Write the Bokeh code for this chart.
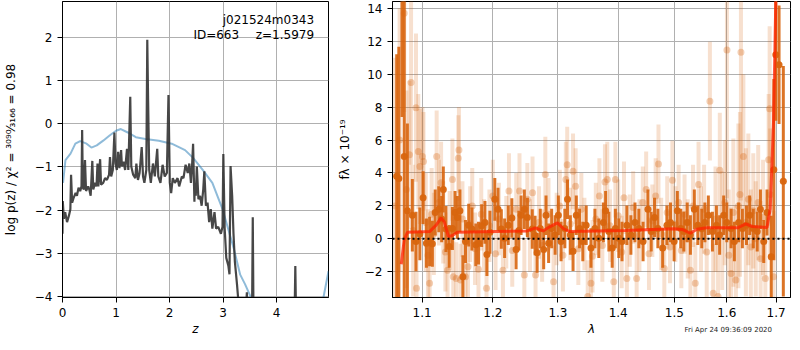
import numpy as np
from bokeh.plotting import figure
from bokeh.models import FixedTicker, PrintfTickFormatter, Label, Range1d, Span, Div
from bokeh.layouts import row, column
from bokeh.embed import file_html
from bokeh.resources import INLINE

FONT = "DejaVu Sans"
FS = "12px"

# ---------------- left panel data: log p(z) ----------------
z_pz = [0.000, 0.005, 0.025, 0.050, 0.085, 0.120, 0.147, 0.160, 0.180, 0.210, 0.245, 0.270, 0.300, 0.330,
        0.355, 0.367, 0.380, 0.400, 0.420, 0.440, 0.480, 0.500, 0.526, 0.557, 0.575, 0.610, 0.636, 0.654,
        0.670, 0.703, 0.720, 0.760, 0.795, 0.830, 0.870, 0.887, 0.910, 0.940, 0.970, 0.990, 1.015, 1.040,
        1.064, 1.095, 1.110, 1.140, 1.170, 1.205, 1.230, 1.266, 1.285, 1.320, 1.360, 1.380, 1.410, 1.440,
        1.480, 1.505, 1.530, 1.566, 1.584, 1.600, 1.620, 1.650, 1.690, 1.725, 1.770, 1.790, 1.830, 1.870,
        1.910, 1.950, 1.980, 2.005, 2.030, 2.060, 2.100, 2.150, 2.180, 2.230, 2.260, 2.300, 2.340, 2.370,
        2.400, 2.420, 2.440, 2.465, 2.470, 2.490, 2.510, 2.540, 2.570, 2.600, 2.630, 2.650, 2.680, 2.710,
        2.740, 2.770, 2.800, 2.840, 2.870, 2.910, 2.960, 2.990, 3.005, 3.030, 3.060, 3.100, 3.120, 3.140,
        3.170, 3.195, 3.220, 3.260, 3.290, 3.410, 3.445, 3.460, 3.540, 3.555, 3.570, 3.660, 4.330, 4.350,
        4.370, 4.970]
logp = [-2.55, -1.79, -2.20, -2.05, -2.28, -2.13, -1.98, -1.18, -1.83, -1.71, -1.60, -1.67, -1.48, -1.56,
        -1.45, -0.14, -1.48, -1.52, -0.84, -1.56, -1.45, -1.52, -1.67, -0.86, -1.52, -1.37, -1.45, -0.92,
        -1.45, -0.82, -1.41, -1.37, -1.26, -1.30, -1.18, -0.77, -1.22, -1.07, -0.20, -0.92, -1.07, -0.65,
        -1.03, -0.61, -0.99, -0.88, -1.07, -0.58, -1.07, 0.63, -0.99, -1.18, -1.26, -0.92, -1.30, -1.14,
        -0.54, -1.22, -1.37, -1.07, 1.95, 0.52, -1.07, -1.37, -0.92, -1.22, -0.58, -1.22, -1.37, -0.95,
        -1.22, -1.14, 0.67, -1.37, -1.61, -1.26, -1.37, -1.26, -1.45, -1.22, -1.26, -0.95, -1.14, -0.92,
        -1.37, -0.99, -0.46, -1.81, -1.37, -1.67, -0.99, -1.75, -1.67, -1.90, -1.52, -1.10, -1.90, -1.83,
        -2.28, -1.98, -2.43, -2.05, -2.43, -2.39, -2.55, -2.39, -0.70, -2.43, -3.11, -3.30, -3.49, -0.98,
        -1.67, -2.55, -3.19, -3.72, -4.17, -4.70, -3.91, -4.70, -4.70, -2.17, -4.70, -5.00, -5.00, -3.30,
        -5.00, -5.00]

z_prior = [0.01, 0.055, 0.15, 0.24, 0.33, 0.45, 0.54, 0.64, 0.76, 0.88, 1.00, 1.09, 1.22, 1.37, 1.55,
           1.80, 2.04, 2.29, 2.44, 2.62, 2.80, 2.99, 3.20, 3.32, 3.41, 3.51, 3.70, 4.00, 4.40, 4.80, 4.88, 4.97]
lp_prior = [-1.37, -0.84, -0.69, -0.46, -0.40, -0.46, -0.55, -0.50, -0.39, -0.27, -0.16, -0.12, -0.20,
            -0.31, -0.35, -0.39, -0.46, -0.61, -0.79, -1.07, -1.37, -1.98, -2.89, -3.50, -3.72, -4.00,
            -4.80, -5.50, -5.50, -4.50, -4.00, -3.42]

z_ticks = [0, 1, 2, 3, 4]
lp_ticks = [-4, -3, -2, -1, 0, 1, 2]

# ---------------- right panel data: spectrum ----------------
lam_a = [1.0640, 1.0700, 1.0761, 1.0790, 1.0830, 1.0852, 1.0880, 1.0918, 1.0925, 1.0949, 1.0970, 1.1005,
         1.1019, 1.1050, 1.1080, 1.1102, 1.1130, 1.1160, 1.1199, 1.1230, 1.1260, 1.1290, 1.1320, 1.1350,
         1.1380, 1.1418, 1.1430, 1.1472, 1.1501, 1.1510, 1.1532, 1.1560, 1.1603, 1.1639, 1.1670, 1.1700,
         1.1740, 1.1790, 1.1830, 1.1870, 1.1907, 1.1950, 1.2000, 1.2040, 1.2090, 1.2150, 1.2200, 1.2240,
         1.2290, 1.2350, 1.2400, 1.2474, 1.2520, 1.2560, 1.2600, 1.2647, 1.2700, 1.2750, 1.2800, 1.2850,
         1.2930, 1.2980, 1.3030, 1.3080, 1.3127, 1.3149, 1.3200, 1.3244, 1.3286, 1.3330, 1.3380, 1.3430,
         1.3485, 1.3539, 1.3565, 1.3620, 1.3680, 1.3730, 1.3774, 1.3813, 1.3860, 1.3924, 1.3952, 1.4000,
         1.4060, 1.4100, 1.4150, 1.4200, 1.4260, 1.4321, 1.4370, 1.4430, 1.4490, 1.4540, 1.4600, 1.4660,
         1.4711, 1.4760, 1.4817, 1.4870, 1.4920, 1.4965, 1.5020, 1.5080, 1.5130, 1.5190, 1.5250, 1.5300,
         1.5350, 1.5392, 1.5454, 1.5500, 1.5560, 1.5610, 1.5671, 1.5735, 1.5780, 1.5829, 1.5863, 1.5910,
         1.5960, 1.6003, 1.6040, 1.6085, 1.6130, 1.6180, 1.6230, 1.6261, 1.6281, 1.6330, 1.6380, 1.6430,
         1.6480, 1.6530, 1.6580, 1.6630, 1.6680, 1.6730, 1.6777, 1.6845, 1.6866, 1.6878, 1.6947]
flux_a = [2.0, 6.0, 13.7, 3.0, 5.1, 9.5, 0.5, 7.96, -3.0, 5.3, 4.4, 5.0,
          4.7, 1.0, -1.0, -2.7, 1.5, 0.3, 5.0, 2.2, 3.4, 1.0, -0.8, -1.9,
          0.5, 3.6, -2.3, -2.4, 4.9, 5.4, -2.5, 1.2, -2.3, -1.7, 0.9, 2.0,
          -0.6, -1.85, 1.5, 0.2, -3.0, 0.8, 2.6, -0.9, 1.2, -1.9, 0.4, 2.9,
          -0.7, 1.8, 2.9, -2.2, 2.4, 0.2, 2.8, -2.2, 1.0, -0.4, 3.9, 1.5,
          -2.6, 0.6, 2.0, -1.0, 3.6, 4.5, 0.9, 4.1, 3.2, -0.6, 1.8, 0.3,
          -3.5, -2.7, -1.05, 1.2, 2.6, -0.4, 3.45, 3.6, 0.8, -2.6, 3.6, 1.4,
          -0.8, 2.5, -2.4, 0.5, 1.9, -2.4, 0.2, 2.2, 3.0, -0.9, 1.1, 2.6,
          4.55, 0.3, -1.8, 1.6, -0.5, 3.56, 0.9, 2.2, -0.7, 1.5, 0.0, -1.9,
          2.0, -2.7, 3.3, 0.6, 1.8, -0.8, 8.36, -3.3, 1.2, -3.5, 4.16, 0.5,
          2.2, 11.47, -1.0, -2.1, 1.6, -2.5, 2.0, 2.7, 11.33, 5.0, 1.0, 2.4,
          -0.5, 1.7, 0.0, 2.2, -1.2, 1.3, -2.4, 4.8, 7.9, 2.7, -2.3]
err_a = [9.0, 8.0, 6.0, 6.0, 4.5, 5.0, 4.0, 4.5, 3.0, 3.5, 3.5, 3.0,
         3.0, 3.0, 2.8, 2.5, 2.8, 2.5, 2.8, 2.6, 2.5, 2.5, 2.4, 2.4,
         2.4, 2.5, 2.2, 2.2, 2.6, 2.6, 2.2, 2.3, 2.2, 2.2, 2.3, 2.3,
         2.2, 2.2, 2.2, 2.2, 2.2, 2.2, 2.2, 2.2, 2.2, 2.2, 2.2, 2.3,
         2.2, 2.2, 2.3, 2.2, 2.2, 2.2, 2.2, 2.2, 2.2, 2.2, 2.3, 2.2,
         2.2, 2.2, 2.2, 2.2, 2.3, 2.3, 2.2, 2.3, 2.3, 2.2, 2.2, 2.2,
         2.2, 2.2, 2.2, 2.2, 2.3, 2.2, 2.3, 2.3, 2.2, 2.2, 2.3, 2.2,
         2.2, 2.2, 2.2, 2.2, 2.2, 2.2, 2.2, 2.2, 2.3, 2.2, 2.2, 2.3,
         2.4, 2.2, 2.2, 2.2, 2.2, 2.4, 2.3, 2.3, 2.3, 2.4, 2.4, 2.4,
         2.5, 2.5, 2.6, 2.6, 2.7, 2.8, 3.6, 3.0, 3.2, 3.3, 3.5, 3.6,
         3.8, 9.0, 4.0, 4.0, 4.5, 4.5, 5.0, 5.0, 9.0, 5.0, 4.5, 4.0,
         3.5, 3.5, 3.5, 3.5, 3.5, 3.5, 3.5, 4.0, 5.0, 4.0, 4.0]

lam_b = [1.0662, 1.0690, 1.0731, 1.0761, 1.0803, 1.0869, 1.0918, 1.0970, 1.1014, 1.1059, 1.1102, 1.1140,
         1.1179, 1.1228, 1.1268, 1.1291, 1.1328, 1.1373, 1.1418, 1.1455, 1.1487, 1.1524, 1.1566, 1.1603,
         1.1649, 1.1695, 1.1751, 1.1790, 1.1836, 1.1884, 1.1913, 1.1957, 1.2029, 1.2077, 1.2126, 1.2175,
         1.2230, 1.2284, 1.2348, 1.2390, 1.2424, 1.2474, 1.2521, 1.2596, 1.2640, 1.2672, 1.2720, 1.2774,
         1.2811, 1.2852, 1.2900, 1.2955, 1.3007, 1.3050, 1.3111, 1.3154, 1.3200, 1.3244, 1.3297, 1.3350,
         1.3404, 1.3460, 1.3539, 1.3605, 1.3670, 1.3747, 1.3785, 1.3840, 1.3897, 1.3952, 1.4010, 1.4066,
         1.4150, 1.4220, 1.4292, 1.4360, 1.4435, 1.4522, 1.4580, 1.4640, 1.4700, 1.4787, 1.4865, 1.4930,
         1.4996, 1.5056, 1.5120, 1.5177, 1.5240, 1.5300, 1.5374, 1.5440, 1.5515, 1.5575, 1.5641, 1.5720,
         1.5797, 1.5860, 1.5939, 1.6000, 1.6085, 1.6150, 1.6235, 1.6310, 1.6392, 1.6457, 1.6530, 1.6610,
         1.6676, 1.6744, 1.6811, 1.6899, 1.6953, 1.6994, 1.7062, 1.7152]
flux_b = [3.8, 3.66, 16.0, 5.0, 1.7, 1.43, -0.16, 0.3, 2.5, -0.26, -0.16, -0.3,
          1.6, 1.8, 1.2, 3.0, 0.6, -0.46, 0.63, 1.6, 1.3, 1.7, -2.3, -0.16,
          0.83, 0.6, -0.36, -0.26, 0.8, 1.0, -0.95, 0.4, 2.4, 1.8, 0.6, 0.04,
          0.83, 1.27, -0.65, 0.5, 1.43, 1.8, 1.3, 0.6, 0.2, -0.85, 0.63, -0.65,
          1.43, -0.26, 0.63, 0.24, 1.43, -0.16, 0.63, 2.4, 0.24, -0.75, 1.43, 0.63,
          -0.16, 0.83, -0.55, 0.63, 0.04, 1.0, 1.7, 0.44, -0.55, 0.63, 0.04, -0.16,
          0.83, 0.24, 1.0, 0.63, -0.16, 1.8, 0.44, 1.3, 0.63, -0.55, 0.83, 1.0,
          -0.16, 1.7, 0.63, 0.44, 1.0, 0.24, 1.8, 0.83, 0.63, 1.0, 1.43, 0.44,
          0.83, 0.24, 1.43, 1.0, 0.63, -0.16, 1.0, 0.63, 0.83, 1.43, 0.63, 0.44,
          1.8, -0.16, 1.6, -1.09, 4.2, 11.17, 10.57, 3.5]
err_b = [7.4, 8.0, 8.6, 9.5, 5.3, 2.2, 1.8, 1.6, 1.6, 1.5, 1.5, 1.4,
         1.4, 1.4, 1.4, 1.4, 1.4, 1.3, 1.3, 1.3, 1.3, 1.3, 1.3, 1.3,
         1.3, 1.3, 1.3, 1.3, 1.3, 1.3, 1.3, 1.3, 1.3, 1.3, 1.2, 1.2,
         1.2, 1.2, 1.2, 1.2, 1.2, 1.2, 1.2, 1.2, 1.2, 1.2, 1.2, 1.2,
         1.2, 1.2, 1.2, 1.2, 1.2, 1.2, 1.2, 1.2, 1.2, 1.2, 1.2, 1.2,
         1.2, 1.2, 1.2, 1.2, 1.2, 1.2, 1.2, 1.2, 1.2, 1.2, 1.2, 1.2,
         1.2, 1.2, 1.2, 1.2, 1.2, 1.2, 1.2, 1.2, 1.2, 1.2, 1.2, 1.2,
         1.2, 1.2, 1.2, 1.2, 1.2, 1.2, 1.2, 1.2, 1.2, 1.2, 1.2, 1.2,
         1.2, 1.2, 1.2, 1.2, 1.2, 1.2, 1.2, 1.2, 1.2, 1.2, 1.2, 1.2,
         1.2, 1.3, 1.4, 2.5, 5.5, 4.0, 3.6, 7.0]

lam_model = [1.0722, 1.0761, 1.0803, 1.1102, 1.1192, 1.1260, 1.1304, 1.1363, 1.1418, 1.1487, 1.2521,
             1.2647, 1.2764, 1.2868, 1.2992, 1.3086, 1.3190, 1.4121, 1.4996, 1.5146, 1.5300, 1.5422,
             1.5609, 1.6215, 1.6378, 1.6510, 1.6811, 1.6878, 1.6947, 1.6994]
flux_model = [-1.54, -0.06, 0.40, 0.44, 0.83, 1.27, 1.03, 0.14, 0.20, 0.40, 0.48,
              0.67, 0.48, 0.73, 0.97, 0.63, 0.44, 0.51, 0.61, 0.57, 0.34, 0.59,
              0.67, 0.67, 0.91, 0.75, 0.69, 1.82, 7.17, 14.5]

lam_ticks = [1.1, 1.2, 1.3, 1.4, 1.5, 1.6, 1.7]
f_ticks = [-2, 0, 2, 4, 6, 8, 10, 12, 14]

timestamp = "Fri Apr 24 09:36:09 2020"

ORANGE = "#d8650e"


def minus(ticks):
    return {t: ("\u2212" + str(-t)) for t in ticks if t < 0}


def style(p):
    p.outline_line_color = "black"
    p.outline_line_width = 1
    p.outline_line_alpha = 1
    for ax in list(p.xaxis) + list(p.yaxis):
        ax.axis_line_color = "black"
        ax.major_tick_line_color = "black"
        ax.major_tick_out = 5
        ax.major_tick_in = 0
        ax.minor_tick_line_color = None
        ax.major_label_standoff = 5
        ax.major_label_text_font = FONT
        ax.major_label_text_font_size = FS
        ax.major_label_text_color = "black"
        ax.axis_label_text_font = FONT
        ax.axis_label_text_font_size = FS
        ax.axis_label_text_color = "black"
    p.grid.grid_line_color = "#b0b0b0"
    p.grid.grid_line_width = 1


FH = 296

# ---------------- left figure ----------------
p1 = figure(frame_width=266, frame_height=FH, min_border_left=61, min_border_right=6,
            min_border_top=1, min_border_bottom=37,
            x_range=Range1d(0, 4.97), y_range=Range1d(-4.03, 2.84),
            output_backend="svg", toolbar_location=None)
style(p1)
p1.xaxis.ticker = FixedTicker(ticks=z_ticks)
p1.yaxis.ticker = FixedTicker(ticks=lp_ticks)
p1.yaxis.major_label_overrides = minus(lp_ticks)
p1.xaxis.axis_label = "z"
p1.xaxis.axis_label_text_font_style = "italic"
p1.xaxis.axis_label_standoff = 2
p1.yaxis.axis_label = "log p(z) / \u03c7\u00b2 = \u00b3\u2070\u2079\u2070\u2044\u2083\u2081\u2086\u2086 = 0.98"
p1.yaxis.axis_label_text_font_style = "normal"
p1.yaxis.axis_label_standoff = 14

p1.line(z_prior, lp_prior, line_color="#1f77b4", line_alpha=0.5, line_width=2)
p1.line(z_pz, logp, line_color="#333333", line_alpha=0.9, line_width=2.2)

p1.add_layout(Label(x=4.70, y=2.41, text="j021524m0343", text_align="right", text_baseline="middle",
                    text_font=FONT, text_font_size=FS, text_color="black"))
p1.add_layout(Label(x=3.30, y=2.07, text="ID=663", text_align="right", text_baseline="middle",
                    text_font=FONT, text_font_size=FS, text_color="black"))
p1.add_layout(Label(x=4.70, y=2.07, text="z=1.5979", text_align="right", text_baseline="middle",
                    text_font=FONT, text_font_size=FS, text_color="black"))

# ---------------- right figure ----------------
p2 = figure(frame_width=398, frame_height=FH, min_border_left=52, min_border_right=1,
            min_border_top=1, min_border_bottom=37, x_axis_type="log",
            x_range=Range1d(1.0607, 1.7304), y_range=Range1d(-3.56, 14.41),
            output_backend="svg", toolbar_location=None)
style(p2)
p2.xaxis.ticker = FixedTicker(ticks=lam_ticks)
p2.xaxis.formatter = PrintfTickFormatter(format="%.1f")
p2.yaxis.ticker = FixedTicker(ticks=f_ticks)
p2.yaxis.major_label_overrides = minus(f_ticks)
p2.xaxis.axis_label = "\u03bb"
p2.xaxis.axis_label_text_font_style = "italic"
p2.xaxis.axis_label_standoff = 2
p2.yaxis.axis_label = "f\u03bb \u00d7 10\u207b\u00b9\u2079"
p2.yaxis.axis_label_text_font_style = "normal"
p2.yaxis.axis_label_standoff = 10

la, fa, ea = np.array(lam_a), np.array(flux_a), np.array(err_a)
lb, fb, eb = np.array(lam_b), np.array(flux_b), np.array(err_b)

p2.segment(x0=la, y0=fa - ea, x1=la, y1=fa + ea, line_color=ORANGE, line_alpha=0.2, line_width=4)
p2.scatter(la, fa, size=7, fill_color=ORANGE, fill_alpha=0.3, line_color=None)
p2.segment(x0=lb, y0=fb - eb, x1=lb, y1=fb + eb, line_color=ORANGE, line_alpha=0.9, line_width=3)
p2.scatter(lb, fb, size=7, fill_color=ORANGE, fill_alpha=0.95, line_color=None)
p2.line(lam_model, flux_model, line_color="#ff2200", line_alpha=0.75, line_width=3)
p2.add_layout(Span(location=0, dimension="width", line_color="black", line_width=2, line_dash="2 3"))

stamp = Div(text=timestamp, width=110, height=10, margin=(-13, 0, 0, 662),
            styles={"font-family": FONT, "font-size": "7px", "color": "#222222",
                    "text-align": "right", "white-space": "nowrap", "line-height": "10px"})

layout = column(row(p1, p2), stamp)
open("out.html", "w").write(file_html(layout, INLINE))
